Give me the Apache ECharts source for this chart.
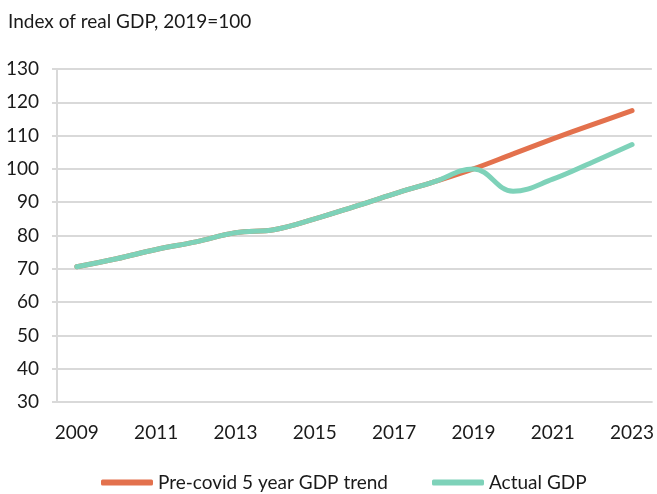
<!DOCTYPE html>
<html>
<head>
<meta charset="utf-8">
<script src="https://cdn.jsdelivr.net/npm/echarts@6/dist/echarts.min.js"></script>
<style>
  html, body { margin: 0; padding: 0; background: #fff; }
  #chart { width: 657px; height: 494px; }
</style>
</head>
<body>
<div id="chart"></div>
<script>
const years = ['2009', '2010', '2011', '2012', '2013', '2014', '2015', '2016',
  '2017', '2018', '2019', '2020', '2021', '2022', '2023']
const trendGdp = [70.6, 73.0, 75.8, 78.1, 80.8, 81.8, 85.0, 88.7, 92.5, 96.1,
  100.0, 104.5, 109.0, 113.3, 117.5]
const actualGdp = [70.6, 73.0, 75.8, 78.1, 80.8, 81.8, 85.0, 88.7, 92.5, 96.1,
  100.0, 93.3, 96.9, 102.0, 107.3]

const gridColor = '#d9d9d9'
const textColor = '#1a1a1a'
const font = 'Lato, "Noto Sans", sans-serif'

const chart = echarts.init(document.getElementById('chart'))
chart.setOption({
  animation: false,
  textStyle: { fontFamily: font },
  title: {
    text: 'Index of real GDP, 2019=100',
    left: 3,
    top: 7,
    textStyle: { fontSize: 19, fontWeight: 'normal', color: textColor, fontFamily: font }
  },
  legend: {
    top: 473,
    left: 101,
    padding: 0,
    itemWidth: 52,
    itemHeight: 6,
    itemGap: 44,
    icon: 'roundRect',
    textStyle: { fontSize: 19, color: textColor, fontFamily: font },
    data: ['Pre-covid 5 year GDP trend', 'Actual GDP']
  },
  grid: { left: 57, right: 2, top: 69, bottom: 92 },
  xAxis: {
    type: 'category',
    data: years,
    boundaryGap: true,
    axisLine: { lineStyle: { color: gridColor, width: 2 } },
    axisTick: { interval: 1, length: 6, lineStyle: { color: gridColor, width: 2 } },
    axisLabel: { interval: 1, margin: 21, fontSize: 19, color: textColor, fontFamily: font },
    splitLine: { show: false }
  },
  yAxis: {
    type: 'value',
    min: 30,
    max: 130,
    interval: 10,
    axisLine: { show: true, lineStyle: { color: gridColor, width: 2 } },
    axisTick: { show: true, length: 5, lineStyle: { color: gridColor, width: 2 } },
    axisLabel: { margin: 18, fontSize: 19, color: textColor, fontFamily: font },
    splitLine: { lineStyle: { color: gridColor, width: 2 } }
  },
  series: [
    {
      name: 'Pre-covid 5 year GDP trend',
      type: 'line',
      data: trendGdp,
      smooth: 0.4,
      symbol: 'none',
      itemStyle: { color: '#e3714d' },
      lineStyle: { width: 5, color: '#e3714d', cap: 'round' }
    },
    {
      name: 'Actual GDP',
      type: 'line',
      data: actualGdp,
      smooth: 0.4,
      symbol: 'none',
      itemStyle: { color: '#7ed2b9' },
      lineStyle: { width: 5, color: '#7ed2b9', cap: 'round' }
    }
  ]
})
</script>
</body>
</html>
